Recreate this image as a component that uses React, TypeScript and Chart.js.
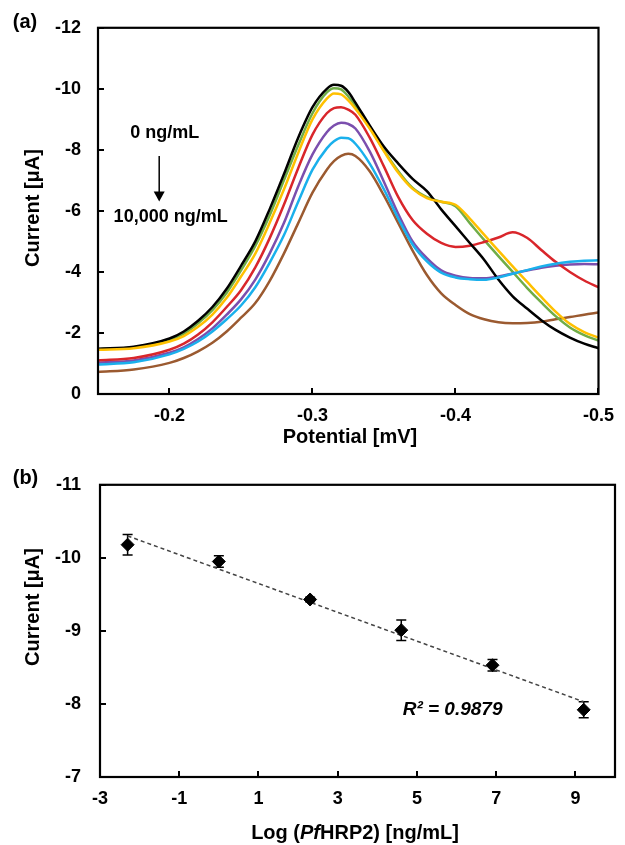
import React, { useEffect, useRef } from 'react';
import { Chart, registerables } from 'chart.js';
Chart.register(...registerables);

const FONT = "'Liberation Sans', Arial, Helvetica, sans-serif";
Chart.defaults.font.family = FONT;

// ---------- Panel (a) data ----------
const potential = [-0.15, -0.175, -0.2, -0.21, -0.22, -0.23, -0.24, -0.25, -0.26, -0.27, -0.28, -0.29, -0.30, -0.31, -0.315, -0.32, -0.325, -0.33, -0.34, -0.35, -0.36, -0.37, -0.38, -0.39, -0.40, -0.41, -0.42, -0.43, -0.44, -0.45, -0.46, -0.47, -0.48, -0.49, -0.50];
const curveBlack = [-1.48, -1.55, -1.82, -2.05, -2.4, -2.85, -3.45, -4.2, -5.0, -6.05, -7.2, -8.4, -9.4, -10.0, -10.13, -10.1, -9.9, -9.55, -8.8, -8.1, -7.55, -7.05, -6.65, -6.05, -5.5, -4.95, -4.4, -3.75, -3.2, -2.8, -2.42, -2.1, -1.85, -1.65, -1.5];
const curveGreen = [-1.47, -1.53, -1.78, -1.98, -2.32, -2.75, -3.32, -4.05, -4.85, -5.85, -7.0, -8.15, -9.2, -9.88, -10.02, -9.98, -9.75, -9.45, -8.75, -7.98, -7.3, -6.75, -6.45, -6.3, -6.15, -5.6, -5.05, -4.52, -4.0, -3.48, -3.0, -2.55, -2.18, -1.93, -1.75];
const curveYellow = [-1.45, -1.5, -1.72, -1.9, -2.2, -2.6, -3.15, -3.85, -4.6, -5.6, -6.7, -7.9, -9.0, -9.68, -9.85, -9.82, -9.62, -9.35, -8.7, -7.95, -7.25, -6.72, -6.42, -6.3, -6.2, -5.75, -5.22, -4.7, -4.18, -3.68, -3.18, -2.7, -2.3, -2.03, -1.85];
const curveRed = [-1.1, -1.18, -1.45, -1.65, -1.95, -2.35, -2.85, -3.4, -4.15, -5.1, -6.2, -7.4, -8.5, -9.2, -9.37, -9.4, -9.32, -9.15, -8.4, -7.45, -6.45, -5.7, -5.25, -4.95, -4.82, -4.86, -4.98, -5.13, -5.3, -5.12, -4.72, -4.33, -4.0, -3.72, -3.5];
const curvePurple = [-1.03, -1.1, -1.35, -1.53, -1.8, -2.15, -2.6, -3.1, -3.75, -4.6, -5.6, -6.8, -7.85, -8.58, -8.8, -8.89, -8.85, -8.7, -7.95, -6.95, -5.9, -5.0, -4.45, -4.05, -3.88, -3.8, -3.79, -3.85, -3.95, -4.05, -4.14, -4.2, -4.24, -4.26, -4.25];
const curveCyan = [-0.97, -1.04, -1.3, -1.48, -1.72, -2.05, -2.45, -2.9, -3.5, -4.3, -5.2, -6.3, -7.35, -8.05, -8.28, -8.4, -8.38, -8.2, -7.55, -6.7, -5.75, -4.9, -4.35, -3.98, -3.82, -3.76, -3.74, -3.82, -3.94, -4.06, -4.18, -4.27, -4.33, -4.37, -4.38];
const curveBrown = [-0.72, -0.8, -1.02, -1.18, -1.4, -1.68, -2.05, -2.5, -2.98, -3.7, -4.6, -5.6, -6.6, -7.35, -7.63, -7.8, -7.87, -7.8, -7.3, -6.5, -5.6, -4.7, -3.9, -3.3, -2.92, -2.62, -2.45, -2.35, -2.32, -2.33, -2.37, -2.45, -2.52, -2.6, -2.67];

const xTicksA = [-0.2, -0.3, -0.4, -0.5];
const yTicksA = [-12, -10, -8, -6, -4, -2, 0];

const annotText = ['0 ng/mL', '10,000 ng/mL'];
const annotX = [-0.1967, -0.2008];
const annotY = [-8.54, -5.79];
const arrowX = -0.1928;
const arrowY = [-7.8, -6.31];

// ---------- Panel (b) data ----------
const logConc = [-2.303, 0, 2.303, 4.605, 6.908, 9.21];
const peakCurrent = [-10.18, -9.95, -9.43, -9.01, -8.53, -7.92];
const currentErr = [0.14, 0.08, 0.03, 0.14, 0.08, 0.11];
const trendX = [-2.303, 9.21];
const trendY = [-10.3, -8.03];
const xTicksB = [-3, -1, 1, 3, 5, 7, 9];
const yTicksB = [-11, -10, -9, -8, -7];
const r2Text = 'R\u00B2 = 0.9879';
const r2X = 5.9;
const r2Y = -7.915;

const tickFont = { family: FONT, size: 18, weight: 'bold' as const };

function drawFrame(chart: any) {
  const { ctx, chartArea: ca, scales } = chart;
  ctx.save();
  ctx.strokeStyle = '#000';
  ctx.lineWidth = 2;
  ctx.beginPath();
  scales.x.ticks.forEach((t: any) => {
    const px = Math.round(scales.x.getPixelForValue(t.value));
    ctx.moveTo(px, ca.bottom);
    ctx.lineTo(px, ca.bottom - 6);
  });
  scales.y.ticks.forEach((t: any) => {
    const py = Math.round(scales.y.getPixelForValue(t.value));
    ctx.moveTo(ca.left, py);
    ctx.lineTo(ca.left + 6, py);
  });
  ctx.stroke();
  ctx.lineWidth = 2.2;
  ctx.strokeRect(ca.left, ca.top, ca.right - ca.left, ca.bottom - ca.top);
  ctx.restore();
}

function drawText(ctx: any, text: string, x: number, y: number, font: string, rot = 0) {
  ctx.save();
  ctx.translate(x, y);
  ctx.rotate(rot);
  ctx.font = font;
  ctx.fillStyle = '#000';
  ctx.textAlign = 'center';
  ctx.textBaseline = 'middle';
  ctx.fillText(text, 0, 0);
  ctx.restore();
}

const pluginA = {
  id: 'decorA',
  afterDraw(chart: any) {
    const { ctx, scales } = chart;
    drawFrame(chart);
    const bold18 = `bold 18px ${FONT}`;
    const bold20 = `bold 20px ${FONT}`;
    drawText(ctx, 'Current [\u03BCA]', 33.5, 208, bold20, -Math.PI / 2);
    drawText(ctx, 'Potential [mV]', 350, 437, bold20);
    drawText(ctx, '(a)', 25, 22, bold20);
    annotText.forEach((t, i) => {
      drawText(ctx, t, scales.x.getPixelForValue(annotX[i]), scales.y.getPixelForValue(annotY[i]), bold18);
    });
    const ax = scales.x.getPixelForValue(arrowX);
    const ay0 = scales.y.getPixelForValue(arrowY[0]);
    const ay1 = scales.y.getPixelForValue(arrowY[1]);
    ctx.save();
    ctx.strokeStyle = '#000';
    ctx.fillStyle = '#000';
    ctx.lineWidth = 1.5;
    ctx.beginPath();
    ctx.moveTo(ax, ay0);
    ctx.lineTo(ax, ay1 - 8);
    ctx.stroke();
    ctx.beginPath();
    ctx.moveTo(ax - 5.5, ay1 - 10);
    ctx.lineTo(ax + 5.5, ay1 - 10);
    ctx.lineTo(ax, ay1);
    ctx.closePath();
    ctx.fill();
    ctx.restore();
  },
};

const pluginB = {
  id: 'decorB',
  beforeDatasetsDraw(chart: any) {
    const { ctx, scales } = chart;
    ctx.save();
    ctx.strokeStyle = '#000';
    ctx.lineWidth = 1.5;
    ctx.beginPath();
    logConc.forEach((x, i) => {
      const px = scales.x.getPixelForValue(x);
      const pTop = scales.y.getPixelForValue(peakCurrent[i] - currentErr[i]);
      const pBot = scales.y.getPixelForValue(peakCurrent[i] + currentErr[i]);
      ctx.moveTo(px, pTop);
      ctx.lineTo(px, pBot);
      ctx.moveTo(px - 5, pTop);
      ctx.lineTo(px + 5, pTop);
      ctx.moveTo(px - 5, pBot);
      ctx.lineTo(px + 5, pBot);
    });
    ctx.stroke();
    ctx.restore();
  },
  afterDraw(chart: any) {
    const { ctx, scales } = chart;
    drawFrame(chart);
    const bold20 = `bold 20px ${FONT}`;
    drawText(ctx, 'Current [\u03BCA]', 33, 152, bold20, -Math.PI / 2);
    drawText(ctx, '(b)', 25.5, 23, bold20);
    drawText(ctx, r2Text, scales.x.getPixelForValue(r2X), scales.y.getPixelForValue(r2Y), `italic bold 19px ${FONT}`);
    const parts = [
      { t: 'Log (', f: `bold 20px ${FONT}` },
      { t: 'Pf', f: `italic bold 20px ${FONT}` },
      { t: 'HRP2) [ng/mL]', f: `bold 20px ${FONT}` },
    ];
    ctx.save();
    let total = 0;
    parts.forEach((p) => { ctx.font = p.f; total += ctx.measureText(p.t).width; });
    let x = 355 - total / 2;
    ctx.fillStyle = '#000';
    ctx.textBaseline = 'middle';
    ctx.textAlign = 'left';
    parts.forEach((p) => { ctx.font = p.f; ctx.fillText(p.t, x, 378); x += ctx.measureText(p.t).width; });
    ctx.restore();
  },
};

function lineDs(label: string, ys: number[], color: string, order: number) {
  return {
    label,
    data: potential.map((x, i) => ({ x, y: ys[i] })),
    borderColor: color,
    backgroundColor: color,
    borderWidth: 2.5,
    pointRadius: 0,
    cubicInterpolationMode: 'monotone' as const,
    order,
  };
}

export default function App() {
  const refA = useRef<HTMLCanvasElement>(null);
  const refB = useRef<HTMLCanvasElement>(null);

  useEffect(() => {
    const chartA = new Chart(refA.current as HTMLCanvasElement, {
      type: 'line',
      data: {
        datasets: [
          lineDs('0 ng/mL', curveBlack, '#000000', 2),
          lineDs('c1', curveGreen, '#70AD47', 5),
          lineDs('c2', curveYellow, '#FFC000', 1),
          lineDs('c3', curveRed, '#D9262B', 3),
          lineDs('c4', curvePurple, '#7B4FAE', 4),
          lineDs('c5', curveCyan, '#1AB0EC', 0),
          lineDs('10,000 ng/mL', curveBrown, '#9B5A30', 6),
        ],
      },
      options: {
        animation: false,
        responsive: true,
        maintainAspectRatio: false,
        layout: { padding: { left: 0, right: 17, top: 24, bottom: 0 } },
        plugins: { legend: { display: false }, tooltip: { enabled: false } },
        scales: {
          x: {
            type: 'linear',
            min: -0.5,
            max: -0.15,
            reverse: true,
            grid: { display: false, drawTicks: false },
            border: { display: false },
            ticks: { padding: 11, font: tickFont, color: '#000', autoSkip: false, maxRotation: 0, callback: (v: any) => String(v) },
            afterBuildTicks: (s: any) => { s.ticks = xTicksA.map((v) => ({ value: v })); },
            afterFit: (s: any) => { s.height = 61; },
          },
          y: {
            type: 'linear',
            min: -12,
            max: 0,
            reverse: true,
            grid: { display: false, drawTicks: false },
            border: { display: false },
            ticks: { padding: 17, font: tickFont, color: '#000', autoSkip: false, callback: (v: any) => String(v) },
            afterBuildTicks: (s: any) => { s.ticks = yTicksA.map((v) => ({ value: v })); },
            afterFit: (s: any) => { s.width = 98; },
          },
        },
      },
      plugins: [pluginA],
    } as any);

    const chartB = new Chart(refB.current as HTMLCanvasElement, {
      type: 'scatter',
      data: {
        datasets: [
          {
            label: 'Peak current',
            data: logConc.map((x, i) => ({ x, y: peakCurrent[i] })),
            pointStyle: 'rectRot',
            pointRadius: 6.5,
            backgroundColor: '#000',
            borderColor: '#000',
            borderWidth: 1,
            order: 0,
          },
          {
            label: 'Linear fit',
            data: trendX.map((x, i) => ({ x, y: trendY[i] })),
            showLine: true,
            borderColor: '#444',
            borderWidth: 1.5,
            borderDash: [4, 3],
            pointRadius: 0,
            order: 1,
          },
        ],
      },
      options: {
        animation: false,
        responsive: true,
        maintainAspectRatio: false,
        layout: { padding: { left: 0, right: 10, top: 23, bottom: 0 } },
        plugins: { legend: { display: false }, tooltip: { enabled: false } },
        scales: {
          x: {
            type: 'linear',
            min: -3,
            max: 10,
            grid: { display: false, drawTicks: false },
            border: { display: false },
            ticks: { padding: 11, font: tickFont, color: '#000', autoSkip: false, maxRotation: 0, callback: (v: any) => String(v) },
            afterBuildTicks: (s: any) => { s.ticks = xTicksB.map((v) => ({ value: v })); },
            afterFit: (s: any) => { s.height = 68; },
          },
          y: {
            type: 'linear',
            min: -11,
            max: -7,
            reverse: true,
            grid: { display: false, drawTicks: false },
            border: { display: false },
            ticks: { padding: 19, font: tickFont, color: '#000', autoSkip: false, callback: (v: any) => String(v) },
            afterBuildTicks: (s: any) => { s.ticks = yTicksB.map((v) => ({ value: v })); },
            afterFit: (s: any) => { s.width = 100; },
          },
        },
      },
      plugins: [pluginB],
    } as any);

    return () => {
      chartA.destroy();
      chartB.destroy();
    };
  }, []);

  return (
    <div style={{ position: 'absolute', left: 0, top: 0, width: 625, height: 845, background: '#fff' }}>
      <div style={{ position: 'absolute', left: 0, top: 0, width: 625, height: 455 }}>
        <canvas ref={refA} />
      </div>
      <div style={{ position: 'absolute', left: 0, top: 455, width: 625, height: 390 }}>
        <canvas ref={refB} />
      </div>
    </div>
  );
}
